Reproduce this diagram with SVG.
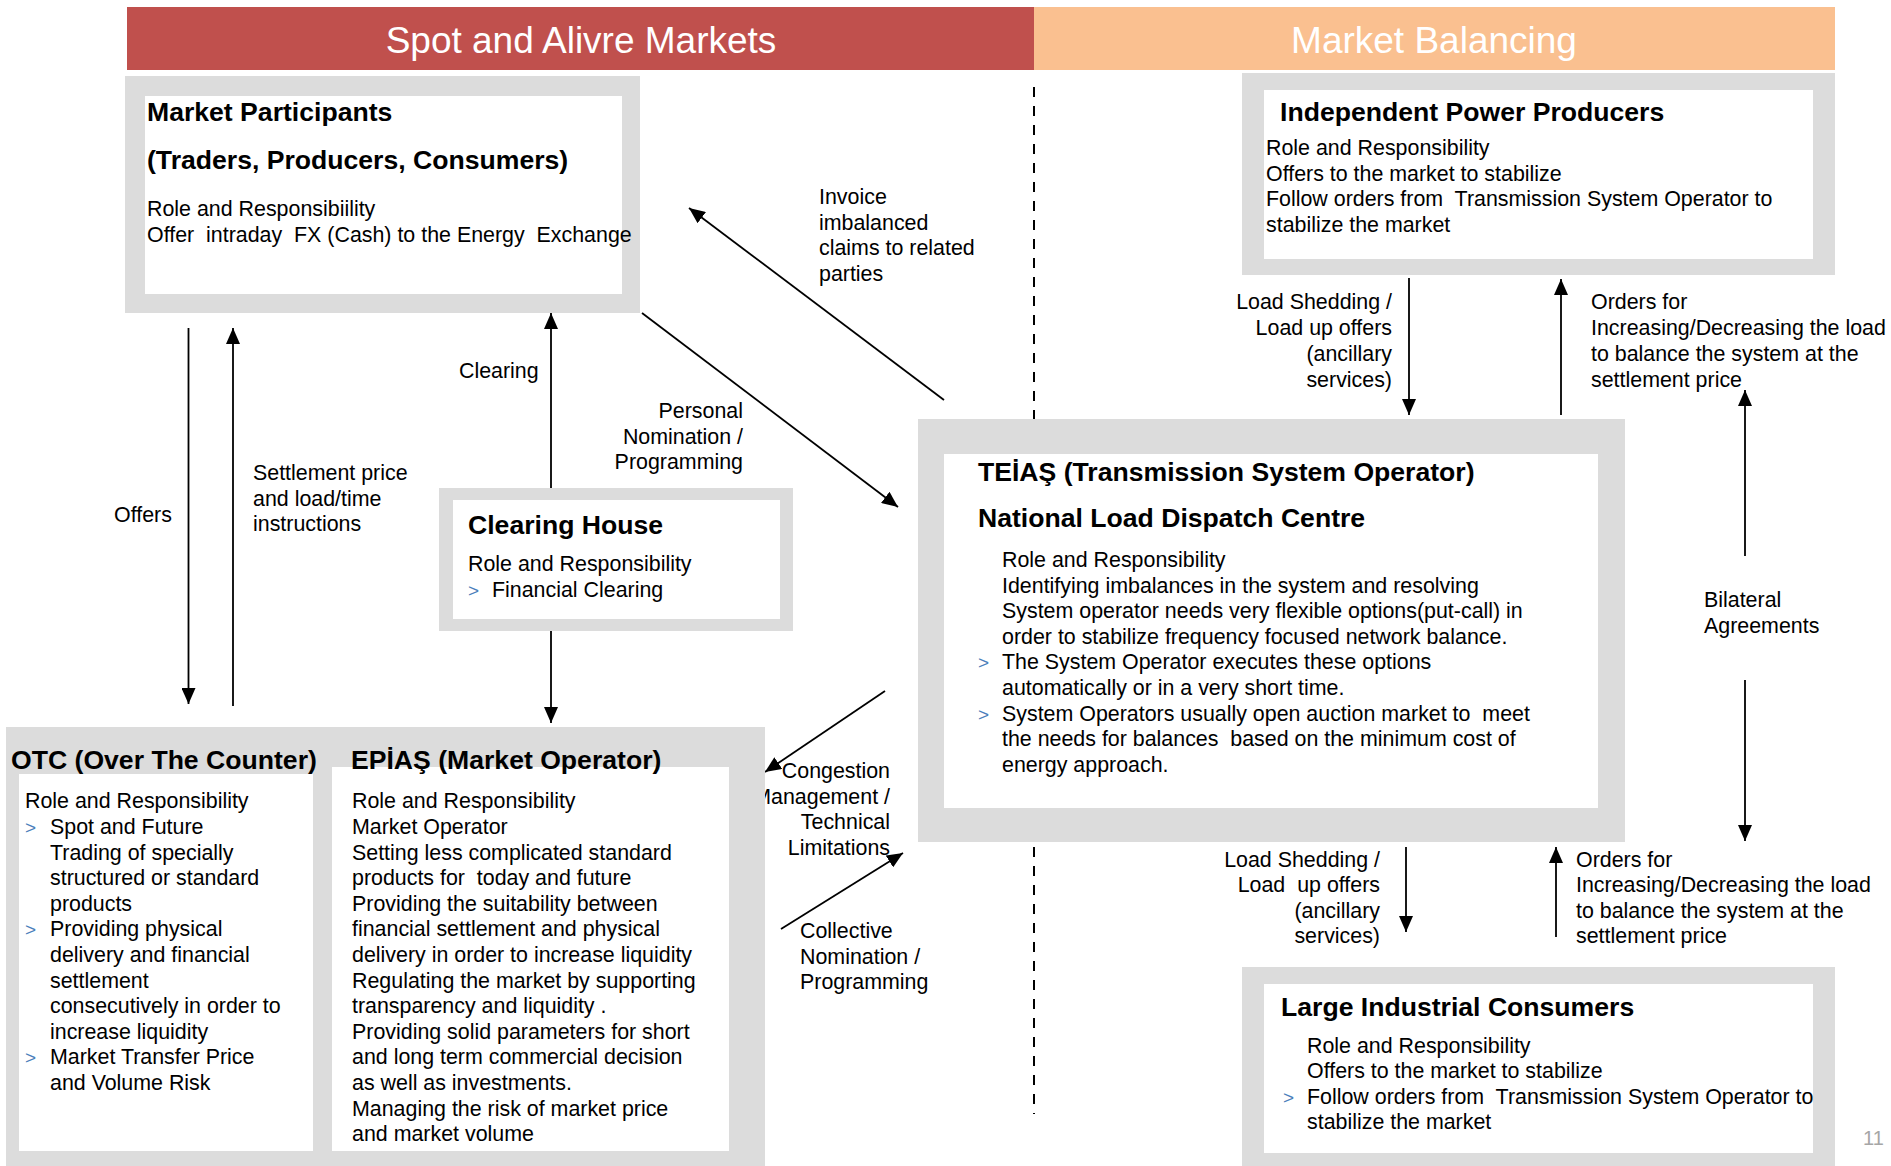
<svg xmlns="http://www.w3.org/2000/svg" width="1891" height="1166" viewBox="0 0 1891 1166">
<style>
text{font-family:"Liberation Sans",Arial,sans-serif;fill:#000;white-space:pre;font-size:21.4px}
.hdr{font-size:37px;fill:#fff;text-anchor:middle}
.ttl{font-weight:bold;font-size:26.6px}
.bul{fill:#4A7EBB;font-size:19px}
.r{text-anchor:end}
.outer{fill:#DCDCDC}
.inner{fill:#fff}
.conn line{stroke:#000;stroke-width:1.8;marker-end:url(#ah)}
.pg{fill:#A6A6A6;font-size:20px}
</style>
<defs>
<marker id="ah" markerUnits="userSpaceOnUse" markerWidth="16" markerHeight="14" refX="16" refY="7" orient="auto">
<path d="M0,0 L16,7 L0,14 z" fill="#000"/>
</marker>
</defs>
<rect width="1891" height="1166" fill="#fff"/>
<g id="header">
<rect x="127" y="7" width="907" height="63" fill="#C0504D"/>
<rect x="1034" y="7" width="801" height="63" fill="#FAC090"/>
<text class="hdr" x="581" y="53">Spot and Alivre Markets</text>
<text class="hdr" x="1434" y="53">Market Balancing</text>
</g>
<line id="divider" x1="1034" y1="87" x2="1034" y2="1114" stroke="#000" stroke-width="2" stroke-dasharray="10 9"/>
<g id="connectors" class="conn">
<line x1="188.5" y1="328" x2="188.5" y2="704"/>
<text x="114" y="522">Offers</text>
<line x1="233" y1="706" x2="233" y2="328"/>
<text x="253" y="480">Settlement price</text>
<text x="253" y="506">and load/time</text>
<text x="253" y="531">instructions</text>
<line x1="551" y1="488" x2="551" y2="313"/>
<text x="459" y="378">Clearing</text>
<line x1="551" y1="631" x2="551" y2="723"/>
<line x1="642" y1="313" x2="898" y2="507"/>
<text class="r" x="743" y="418">Personal</text>
<text class="r" x="743" y="444">Nomination /</text>
<text class="r" x="743" y="469">Programming</text>
<line x1="944" y1="400" x2="689" y2="208"/>
<text x="819" y="204">Invoice</text>
<text x="819" y="230">imbalanced</text>
<text x="819" y="255">claims to related</text>
<text x="819" y="281">parties</text>
<line x1="885" y1="691" x2="765" y2="772"/>
<text class="r" x="890" y="778">Congestion</text>
<text class="r" x="890" y="804">Management /</text>
<text class="r" x="890" y="829">Technical</text>
<text class="r" x="890" y="855">Limitations</text>
<line x1="781" y1="929" x2="903" y2="853"/>
<text x="800" y="938">Collective</text>
<text x="800" y="964">Nomination /</text>
<text x="800" y="989">Programming</text>
<line x1="1409" y1="278" x2="1409" y2="415"/>
<text class="r" x="1392" y="309">Load Shedding /</text>
<text class="r" x="1392" y="335">Load up offers</text>
<text class="r" x="1392" y="361">(ancillary</text>
<text class="r" x="1392" y="387">services)</text>
<line x1="1561" y1="415" x2="1561" y2="279"/>
<text x="1591" y="309">Orders for</text>
<text x="1591" y="335">Increasing/Decreasing the load</text>
<text x="1591" y="361">to balance the system at the</text>
<text x="1591" y="387">settlement price</text>
<line x1="1745" y1="556" x2="1745" y2="390"/>
<line x1="1745" y1="680" x2="1745" y2="841"/>
<text x="1704" y="607">Bilateral</text>
<text x="1704" y="633">Agreements</text>
<line x1="1406" y1="847" x2="1406" y2="932"/>
<text class="r" x="1380" y="867">Load Shedding /</text>
<text class="r" x="1380" y="892">Load  up offers</text>
<text class="r" x="1380" y="918">(ancillary</text>
<text class="r" x="1380" y="943">services)</text>
<line x1="1556" y1="937" x2="1556" y2="847"/>
<text x="1576" y="867">Orders for</text>
<text x="1576" y="892">Increasing/Decreasing the load</text>
<text x="1576" y="918">to balance the system at the</text>
<text x="1576" y="943">settlement price</text>
</g>
<g id="market-participants">
<rect class="outer" x="125" y="76" width="515" height="237"/>
<rect class="inner" x="145" y="96" width="477" height="198"/>
<text class="ttl" x="147" y="121">Market Participants</text>
<text class="ttl" x="147" y="169">(Traders, Producers, Consumers)</text>
<text x="147" y="216">Role and Responsibiility</text>
<text x="147" y="242">Offer  intraday  FX (Cash) to the Energy  Exchange</text>
</g>
<g id="clearing-house">
<rect class="outer" x="439" y="488" width="354" height="143"/>
<rect class="inner" x="453" y="500" width="327" height="119"/>
<text class="ttl" x="468" y="534">Clearing House</text>
<text x="468" y="571">Role and Responsibility</text>
<text class="bul" x="468" y="597">&gt;</text>
<text x="492" y="597">Financial Clearing</text>
</g>
<g id="otc-epias-panel">
<rect class="outer" x="6" y="727" width="759" height="439"/>
<g id="otc">
<rect class="inner" x="19" y="774" width="294" height="377"/>
<text class="ttl" x="11" y="769">OTC (Over The Counter)</text>
<text x="25" y="808">Role and Responsibility</text>
<text class="bul" x="25" y="834">&gt;</text>
<text x="50" y="834">Spot and Future</text>
<text x="50" y="860">Trading of specially</text>
<text x="50" y="885">structured or standard</text>
<text x="50" y="911">products</text>
<text class="bul" x="25" y="936">&gt;</text>
<text x="50" y="936">Providing physical</text>
<text x="50" y="962">delivery and financial</text>
<text x="50" y="988">settlement</text>
<text x="50" y="1013">consecutively in order to</text>
<text x="50" y="1039">increase liquidity</text>
<text class="bul" x="25" y="1064">&gt;</text>
<text x="50" y="1064">Market Transfer Price</text>
<text x="50" y="1090">and Volume Risk</text>
</g>
<g id="epias">
<rect class="inner" x="332" y="767" width="397" height="384"/>
<text class="ttl" x="351" y="769">EPİAŞ (Market Operator)</text>
<text x="352" y="808">Role and Responsibility</text>
<text x="352" y="834">Market Operator</text>
<text x="352" y="860">Setting less complicated standard</text>
<text x="352" y="885">products for  today and future</text>
<text x="352" y="911">Providing the suitability between</text>
<text x="352" y="936">financial settlement and physical</text>
<text x="352" y="962">delivery in order to increase liquidity</text>
<text x="352" y="988">Regulating the market by supporting</text>
<text x="352" y="1013">transparency and liquidity .</text>
<text x="352" y="1039">Providing solid parameters for short</text>
<text x="352" y="1064">and long term commercial decision</text>
<text x="352" y="1090">as well as investments.</text>
<text x="352" y="1116">Managing the risk of market price</text>
<text x="352" y="1141">and market volume</text>
</g>
</g>
<g id="teias">
<rect class="outer" x="918" y="419" width="707" height="423"/>
<rect class="inner" x="944" y="454" width="654" height="354"/>
<text class="ttl" x="978" y="481">TEİAŞ (Transmission System Operator)</text>
<text class="ttl" x="978" y="527">National Load Dispatch Centre</text>
<text x="1002" y="567">Role and Responsibility</text>
<text x="1002" y="593">Identifying imbalances in the system and resolving</text>
<text x="1002" y="618">System operator needs very flexible options(put-call) in</text>
<text x="1002" y="644">order to stabilize frequency focused network balance.</text>
<text class="bul" x="978" y="669">&gt;</text>
<text x="1002" y="669">The System Operator executes these options</text>
<text x="1002" y="695">automatically or in a very short time.</text>
<text class="bul" x="978" y="721">&gt;</text>
<text x="1002" y="721">System Operators usually open auction market to  meet</text>
<text x="1002" y="746">the needs for balances  based on the minimum cost of</text>
<text x="1002" y="772">energy approach.</text>
</g>
<g id="independent-power-producers">
<rect class="outer" x="1242" y="73" width="593" height="202"/>
<rect class="inner" x="1264" y="90" width="549" height="169"/>
<text class="ttl" x="1280" y="121">Independent Power Producers</text>
<text x="1266" y="155">Role and Responsibility</text>
<text x="1266" y="181">Offers to the market to stabilize</text>
<text x="1266" y="206">Follow orders from  Transmission System Operator to</text>
<text x="1266" y="232">stabilize the market</text>
</g>
<g id="large-industrial-consumers">
<rect class="outer" x="1242" y="967" width="593" height="199"/>
<rect class="inner" x="1264" y="984" width="549" height="169"/>
<text class="ttl" x="1281" y="1016">Large Industrial Consumers</text>
<text x="1307" y="1053">Role and Responsibility</text>
<text x="1307" y="1078">Offers to the market to stabilize</text>
<text class="bul" x="1283" y="1104">&gt;</text>
<text x="1307" y="1104">Follow orders from  Transmission System Operator to</text>
<text x="1307" y="1129">stabilize the market</text>
</g>
<text class="pg" x="1863" y="1145">11</text>
</svg>
